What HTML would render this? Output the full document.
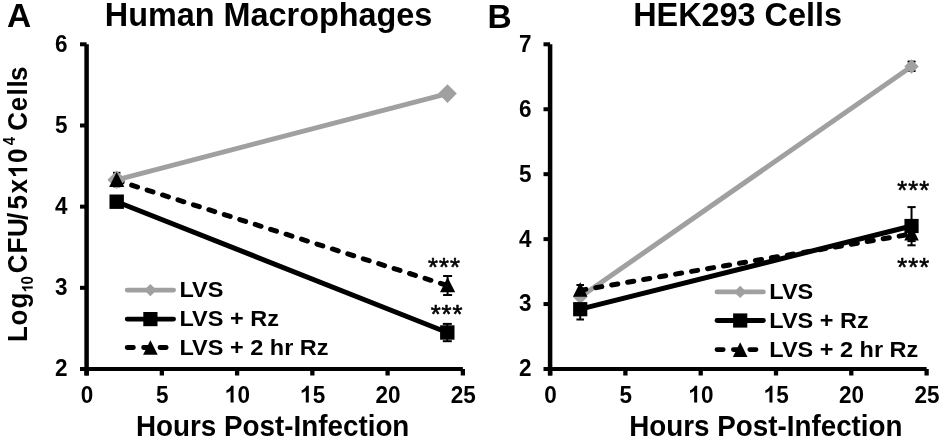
<!DOCTYPE html>
<html><head><meta charset="utf-8"><style>
html,body{margin:0;padding:0;background:#fff;}
svg{display:block;will-change:transform;}
text{font-family:"Liberation Sans",sans-serif;font-weight:bold;fill:#000;}
</style></head><body>
<svg width="945" height="439" viewBox="0 0 945 439">
<line x1="86.60" y1="44.30" x2="86.60" y2="375.5" stroke="#000" stroke-width="4.5"/><line x1="86.60" y1="369" x2="462.85" y2="369" stroke="#000" stroke-width="4"/><line x1="80.00" y1="369.00" x2="86.60" y2="369.00" stroke="#000" stroke-width="4"/><g transform="translate(55.09 376.40) scale(1 1.08)"><text x="0.00" y="0" font-size="22.5">2</text></g><line x1="80.00" y1="287.82" x2="86.60" y2="287.82" stroke="#000" stroke-width="4"/><g transform="translate(55.09 295.22) scale(1 1.08)"><text x="0.00" y="0" font-size="22.5">3</text></g><line x1="80.00" y1="206.65" x2="86.60" y2="206.65" stroke="#000" stroke-width="4"/><g transform="translate(55.09 214.05) scale(1 1.08)"><text x="0.00" y="0" font-size="22.5">4</text></g><line x1="80.00" y1="125.48" x2="86.60" y2="125.48" stroke="#000" stroke-width="4"/><g transform="translate(55.09 132.88) scale(1 1.08)"><text x="0.00" y="0" font-size="22.5">5</text></g><line x1="80.00" y1="44.30" x2="86.60" y2="44.30" stroke="#000" stroke-width="4"/><g transform="translate(55.09 51.70) scale(1 1.08)"><text x="0.00" y="0" font-size="22.5">6</text></g><line x1="86.60" y1="369" x2="86.60" y2="375.5" stroke="#000" stroke-width="4.3"/><g transform="translate(80.64 402.50) scale(1 1.08)"><text x="0.00" y="0" font-size="22.5">0</text></g><line x1="161.85" y1="369" x2="161.85" y2="375.5" stroke="#000" stroke-width="4.3"/><g transform="translate(155.89 402.50) scale(1 1.08)"><text x="0.00" y="0" font-size="22.5">5</text></g><line x1="237.10" y1="369" x2="237.10" y2="375.5" stroke="#000" stroke-width="4.3"/><g transform="translate(224.89 402.50) scale(1 1.08)"><path d="M789 0L515 0L515 990Q400 890 140 810L140 1030Q300 1090 420 1200Q540 1310 580 1409L789 1409Z" transform="translate(0.00 0.00) scale(0.01099 -0.01099)" fill="#000"/><text x="12.51" y="0" font-size="22.5">0</text></g><line x1="312.35" y1="369" x2="312.35" y2="375.5" stroke="#000" stroke-width="4.3"/><g transform="translate(300.14 402.50) scale(1 1.08)"><path d="M789 0L515 0L515 990Q400 890 140 810L140 1030Q300 1090 420 1200Q540 1310 580 1409L789 1409Z" transform="translate(0.00 0.00) scale(0.01099 -0.01099)" fill="#000"/><text x="12.51" y="0" font-size="22.5">5</text></g><line x1="387.60" y1="369" x2="387.60" y2="375.5" stroke="#000" stroke-width="4.3"/><g transform="translate(375.39 402.50) scale(1 1.08)"><text x="0.00" y="0" font-size="22.5">2</text><text x="12.51" y="0" font-size="22.5">0</text></g><line x1="462.85" y1="369" x2="462.85" y2="375.5" stroke="#000" stroke-width="4.3"/><g transform="translate(450.64 402.50) scale(1 1.08)"><text x="0.00" y="0" font-size="22.5">2</text><text x="12.51" y="0" font-size="22.5">5</text></g>
<line x1="550.10" y1="44.30" x2="550.10" y2="375.5" stroke="#000" stroke-width="4.5"/><line x1="550.10" y1="369" x2="926.60" y2="369" stroke="#000" stroke-width="4"/><line x1="543.50" y1="369.00" x2="550.10" y2="369.00" stroke="#000" stroke-width="4"/><g transform="translate(518.99 376.40) scale(1 1.08)"><text x="0.00" y="0" font-size="22.5">2</text></g><line x1="543.50" y1="304.06" x2="550.10" y2="304.06" stroke="#000" stroke-width="4"/><g transform="translate(518.99 311.46) scale(1 1.08)"><text x="0.00" y="0" font-size="22.5">3</text></g><line x1="543.50" y1="239.12" x2="550.10" y2="239.12" stroke="#000" stroke-width="4"/><g transform="translate(518.99 246.52) scale(1 1.08)"><text x="0.00" y="0" font-size="22.5">4</text></g><line x1="543.50" y1="174.18" x2="550.10" y2="174.18" stroke="#000" stroke-width="4"/><g transform="translate(518.99 181.58) scale(1 1.08)"><text x="0.00" y="0" font-size="22.5">5</text></g><line x1="543.50" y1="109.24" x2="550.10" y2="109.24" stroke="#000" stroke-width="4"/><g transform="translate(518.99 116.64) scale(1 1.08)"><text x="0.00" y="0" font-size="22.5">6</text></g><line x1="543.50" y1="44.30" x2="550.10" y2="44.30" stroke="#000" stroke-width="4"/><g transform="translate(518.99 51.70) scale(1 1.08)"><text x="0.00" y="0" font-size="22.5">7</text></g><line x1="550.10" y1="369" x2="550.10" y2="375.5" stroke="#000" stroke-width="4.3"/><g transform="translate(544.14 402.50) scale(1 1.08)"><text x="0.00" y="0" font-size="22.5">0</text></g><line x1="625.40" y1="369" x2="625.40" y2="375.5" stroke="#000" stroke-width="4.3"/><g transform="translate(619.44 402.50) scale(1 1.08)"><text x="0.00" y="0" font-size="22.5">5</text></g><line x1="700.70" y1="369" x2="700.70" y2="375.5" stroke="#000" stroke-width="4.3"/><g transform="translate(688.49 402.50) scale(1 1.08)"><path d="M789 0L515 0L515 990Q400 890 140 810L140 1030Q300 1090 420 1200Q540 1310 580 1409L789 1409Z" transform="translate(0.00 0.00) scale(0.01099 -0.01099)" fill="#000"/><text x="12.51" y="0" font-size="22.5">0</text></g><line x1="776.00" y1="369" x2="776.00" y2="375.5" stroke="#000" stroke-width="4.3"/><g transform="translate(763.79 402.50) scale(1 1.08)"><path d="M789 0L515 0L515 990Q400 890 140 810L140 1030Q300 1090 420 1200Q540 1310 580 1409L789 1409Z" transform="translate(0.00 0.00) scale(0.01099 -0.01099)" fill="#000"/><text x="12.51" y="0" font-size="22.5">5</text></g><line x1="851.30" y1="369" x2="851.30" y2="375.5" stroke="#000" stroke-width="4.3"/><g transform="translate(839.09 402.50) scale(1 1.08)"><text x="0.00" y="0" font-size="22.5">2</text><text x="12.51" y="0" font-size="22.5">0</text></g><line x1="926.60" y1="369" x2="926.60" y2="375.5" stroke="#000" stroke-width="4.3"/><g transform="translate(914.39 402.50) scale(1 1.08)"><text x="0.00" y="0" font-size="22.5">2</text><text x="12.51" y="0" font-size="22.5">5</text></g>
<line x1="116.70" y1="172.80" x2="116.70" y2="186.40" stroke="#000" stroke-width="2"/><line x1="113.00" y1="172.80" x2="120.40" y2="172.80" stroke="#000" stroke-width="2"/><line x1="113.00" y1="186.40" x2="120.40" y2="186.40" stroke="#000" stroke-width="2"/>
<line x1="447.60" y1="276.00" x2="447.60" y2="295.00" stroke="#000" stroke-width="2"/><line x1="443.10" y1="276.00" x2="452.10" y2="276.00" stroke="#000" stroke-width="2"/><line x1="443.10" y1="295.00" x2="452.10" y2="295.00" stroke="#000" stroke-width="2"/>
<line x1="447.30" y1="323.90" x2="447.30" y2="341.20" stroke="#000" stroke-width="2"/><line x1="442.80" y1="323.90" x2="451.80" y2="323.90" stroke="#000" stroke-width="2"/><line x1="442.80" y1="341.20" x2="451.80" y2="341.20" stroke="#000" stroke-width="2"/>
<line x1="911.54" y1="61.60" x2="911.54" y2="71.00" stroke="#000" stroke-width="2"/><line x1="907.54" y1="61.60" x2="915.54" y2="61.60" stroke="#000" stroke-width="2"/><line x1="907.54" y1="71.00" x2="915.54" y2="71.00" stroke="#000" stroke-width="2"/>
<line x1="911.54" y1="207.10" x2="911.54" y2="245.30" stroke="#000" stroke-width="2"/><line x1="907.44" y1="207.10" x2="915.64" y2="207.10" stroke="#000" stroke-width="2"/><line x1="907.44" y1="245.30" x2="915.64" y2="245.30" stroke="#000" stroke-width="2"/>
<line x1="911.54" y1="225.20" x2="911.54" y2="241.10" stroke="#000" stroke-width="2"/><line x1="907.44" y1="225.20" x2="915.64" y2="225.20" stroke="#000" stroke-width="2"/><line x1="907.44" y1="241.10" x2="915.64" y2="241.10" stroke="#000" stroke-width="2"/>
<line x1="580.22" y1="285.00" x2="580.22" y2="294.00" stroke="#000" stroke-width="2"/><line x1="576.42" y1="285.00" x2="584.02" y2="285.00" stroke="#000" stroke-width="2"/><line x1="576.42" y1="294.00" x2="584.02" y2="294.00" stroke="#000" stroke-width="2"/>
<line x1="580.22" y1="298.70" x2="580.22" y2="319.50" stroke="#000" stroke-width="2"/><line x1="576.42" y1="298.70" x2="584.02" y2="298.70" stroke="#000" stroke-width="2"/><line x1="576.42" y1="319.50" x2="584.02" y2="319.50" stroke="#000" stroke-width="2"/>
<path d="M116.70 179.80L447.50 93.60" stroke="#a0a0a0" stroke-width="5" fill="none" stroke-linecap="round"/>
<path d="M116.70 201.70L447.30 332.50" stroke="#000" stroke-width="5" fill="none" stroke-linecap="round"/>
<path d="M116.70 180.40L447.60 285.60" stroke="#000" stroke-width="5" fill="none" stroke-dasharray="6.2 10.0" stroke-dashoffset="0.5" stroke-linecap="round"/>
<path d="M580.22 297.00L911.54 66.50" stroke="#a0a0a0" stroke-width="5" fill="none" stroke-linecap="round"/>
<path d="M580.22 309.20L911.54 226.00" stroke="#000" stroke-width="5" fill="none" stroke-linecap="round"/>
<path d="M580.22 290.30L911.54 234.00" stroke="#000" stroke-width="5" fill="none" stroke-dasharray="6.2 10.0" stroke-dashoffset="0.5" stroke-linecap="round"/>
<path d="M116.70 170.50L126.00 179.80L116.70 189.10L107.40 179.80Z" fill="#a0a0a0"/>
<path d="M447.50 84.30L456.80 93.60L447.50 102.90L438.20 93.60Z" fill="#a0a0a0"/>
<rect x="109.50" y="194.50" width="14.4" height="14.4" fill="#000"/>
<rect x="440.10" y="325.30" width="14.4" height="14.4" fill="#000"/>
<path d="M116.70 172.10L124.30 187.10L109.10 187.10Z" fill="#000"/>
<path d="M447.60 277.30L455.20 292.30L440.00 292.30Z" fill="#000"/>
<path d="M580.22 289.80L587.42 297.00L580.22 304.20L573.02 297.00Z" fill="#a0a0a0"/>
<path d="M911.54 59.30L918.74 66.50L911.54 73.70L904.34 66.50Z" fill="#a0a0a0"/>
<rect x="573.12" y="302.10" width="14.2" height="14.2" fill="#000"/>
<rect x="904.44" y="218.90" width="14.2" height="14.2" fill="#000"/>
<path d="M580.22 282.30L587.52 296.70L572.92 296.70Z" fill="#000"/>
<path d="M911.54 226.00L918.84 240.40L904.24 240.40Z" fill="#000"/>
<text x="428.09" y="276.44" font-size="25.5" style="font-weight:normal;stroke:#000;stroke-width:0.6px;stroke-linejoin:round" letter-spacing="1.0">***</text>
<text x="430.69" y="322.84" font-size="25.5" style="font-weight:normal;stroke:#000;stroke-width:0.6px;stroke-linejoin:round" letter-spacing="1.0">***</text>
<text x="897.29" y="199.44" font-size="25.5" style="font-weight:normal;stroke:#000;stroke-width:0.6px;stroke-linejoin:round" letter-spacing="1.0">***</text>
<text x="897.29" y="276.24" font-size="25.5" style="font-weight:normal;stroke:#000;stroke-width:0.6px;stroke-linejoin:round" letter-spacing="1.0">***</text>
<line x1="127.20" y1="290.10" x2="173.60" y2="290.10" stroke="#a0a0a0" stroke-width="4.8" stroke-linecap="round"/><path d="M150.40 283.90L156.60 290.10L150.40 296.30L144.20 290.10Z" fill="#a0a0a0"/><line x1="127.20" y1="319.10" x2="173.60" y2="319.10" stroke="#000" stroke-width="4.8" stroke-linecap="round"/><rect x="143.30" y="312.00" width="14.2" height="14.2" fill="#000"/><path d="M127.20 347.50H133.40M143.60 347.50H149.80M160.00 347.50H166.20" stroke="#000" stroke-width="4.8" stroke-linecap="round"/><path d="M150.40 340.20L157.70 354.80L143.10 354.80Z" fill="#000"/><text transform="translate(179.50 297.20) scale(1 0.97)" font-size="23.5">LVS</text><text transform="translate(179.50 326.20) scale(1 0.97)" font-size="23.5">LVS + Rz</text><text transform="translate(179.50 354.60) scale(1 0.97)" font-size="23.5">LVS + 2 hr Rz</text>
<line x1="717.00" y1="291.90" x2="763.40" y2="291.90" stroke="#a0a0a0" stroke-width="4.8" stroke-linecap="round"/><path d="M740.20 285.70L746.40 291.90L740.20 298.10L734.00 291.90Z" fill="#a0a0a0"/><line x1="717.00" y1="320.50" x2="763.40" y2="320.50" stroke="#000" stroke-width="4.8" stroke-linecap="round"/><rect x="733.10" y="313.40" width="14.2" height="14.2" fill="#000"/><path d="M717.00 349.60H723.20M733.40 349.60H739.60M749.80 349.60H756.00" stroke="#000" stroke-width="4.8" stroke-linecap="round"/><path d="M740.20 342.30L747.50 356.90L732.90 356.90Z" fill="#000"/><text transform="translate(769.30 299.00) scale(1 0.97)" font-size="23.5">LVS</text><text transform="translate(769.30 327.60) scale(1 0.97)" font-size="23.5">LVS + Rz</text><text transform="translate(769.30 356.70) scale(1 0.97)" font-size="23.5">LVS + 2 hr Rz</text>
<text x="7.0" y="27.4" font-size="33.5">A</text>
<text x="487.4" y="27.6" font-size="33.5">B</text>
<text x="104.8" y="25.9" font-size="32.4">Human Macrophages</text>
<text x="633.2" y="25.9" font-size="32.4">HEK293 Cells</text>
<text transform="translate(136 435.5) scale(1 1.05)" font-size="27.8">Hours Post-Infection</text>
<text transform="translate(629.2 435.5) scale(1 1.05)" font-size="27.8">Hours Post-Infection</text>
<g transform="translate(27.2 342.1) rotate(-90) scale(1 1.05)"><text font-size="26"><tspan x="0.2 16.5 33.5" y="0">Log</tspan><tspan font-size="15" x="57.7" y="5.3">0</tspan><tspan x="68.8 88.5 105.2 122.0 132.7 148.7" y="0">CFU/5x</tspan><tspan x="179.2" y="0">0</tspan><tspan font-size="15" x="196.9" y="-11.6">4</tspan><tspan x="211.4 230.9 246.7 254.6 261.1" y="0">Cells</tspan></text><path d="M789 0L515 0L515 990Q400 890 140 810L140 1030Q300 1090 420 1200Q540 1310 580 1409L789 1409Z" transform="translate(49.80 5.30) scale(0.00732 -0.00732)" fill="#000"/><path d="M789 0L515 0L515 990Q400 890 140 810L140 1030Q300 1090 420 1200Q540 1310 580 1409L789 1409Z" transform="translate(164.20 0.00) scale(0.01270 -0.01270)" fill="#000"/></g>
</svg></body></html>
